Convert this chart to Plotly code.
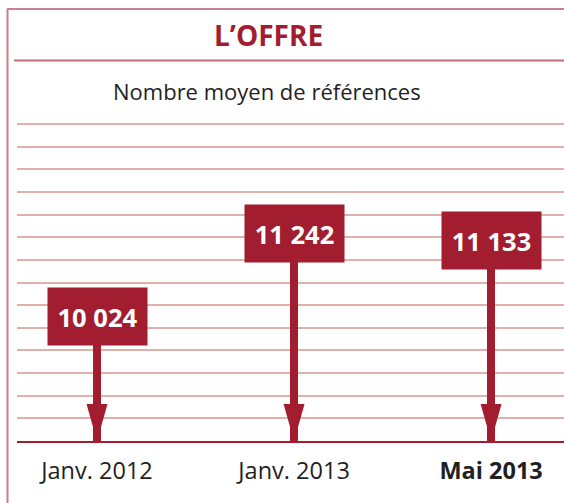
import plotly.graph_objects as go

# data
periods = ['Janv. 2012', 'Janv. 2013', 'Mai 2013']
references = [10024, 11242, 11133]
title_text = 'L’OFFRE'
subtitle_text = 'Nombre moyen de références'

# style
RED = '#a11d2f'
GRID = '#e0b1a9'
FRAME = '#c8808a'
INK = '#231f20'
FONT = 'Open Sans, sans-serif'

W, H = 564, 503
margin = dict(l=17, r=0, t=110, b=62)
plot_w = W - margin['l'] - margin['r']
plot_h = H - margin['t'] - margin['b']

base = 8210      # value sitting on the baseline
step = 330       # one grid line every `step`
y_top = base + plot_h / 0.0686


def px_x(px):
    return (px - margin['l']) / plot_w


def px_y(py):
    return (H - margin['b'] - py) / plot_h


x_pos = list(range(len(periods)))
tick_text = [f'<b>{p}</b>' if i == len(periods) - 1 else p for i, p in enumerate(periods)]

fig = go.Figure()

# arrow stems
fig.add_trace(go.Bar(
    x=x_pos, y=[v - base for v in references], base=base,
    width=0.041, marker=dict(color=RED, line=dict(width=0)),
    hoverinfo='skip',
))

# arrow heads + value boxes
for i, v in zip(x_pos, references):
    fig.add_shape(
        type='path', xref='x', yref='y',
        xsizemode='pixel', ysizemode='pixel',
        xanchor=i, yanchor=base,
        path='M-10.5,37 L10.5,37 L0,0 Z',
        fillcolor=RED, line=dict(width=0), layer='above',
    )
    fig.add_annotation(
        x=i, y=v, xref='x', yref='y',
        text='<b>' + f'{v:,}'.replace(',', ' ') + '</b>',
        showarrow=False, bgcolor=RED, width=99, height=57, borderpad=0,
        font=dict(family=FONT, size=25.5, color='white'),
    )

# frame and title rule
fig.add_shape(type='line', xref='paper', yref='paper',
              x0=px_x(7.5), x1=px_x(7.5), y0=px_y(9), y1=px_y(503),
              line=dict(color=FRAME, width=2))
fig.add_shape(type='line', xref='paper', yref='paper',
              x0=px_x(7), x1=1, y0=px_y(9), y1=px_y(9),
              line=dict(color=FRAME, width=2))
fig.add_shape(type='line', xref='paper', yref='paper',
              x0=px_x(14), x1=1, y0=px_y(60.5), y1=px_y(60.5),
              line=dict(color='#c06f79', width=2))

fig.add_annotation(
    text=f'<b>{title_text}</b>', xref='paper', yref='paper',
    x=px_x(268), y=px_y(35), showarrow=False, yanchor='middle',
    font=dict(family=FONT, size=28, color=RED),
)
fig.add_annotation(
    text=subtitle_text, xref='paper', yref='paper',
    x=px_x(267), y=px_y(91), showarrow=False, yanchor='middle',
    font=dict(family=FONT, size=22, color=INK),
)

fig.update_xaxes(
    range=[-0.406, 2.37], tickvals=x_pos, ticktext=tick_text,
    showgrid=False, zeroline=False, ticks='',
    showline=True, linecolor=RED, linewidth=2,
    tickfont=dict(family=FONT, size=23.5, color=INK),
    ticklabelstandoff=8,
)
fig.update_yaxes(
    range=[base, y_top], tick0=base, dtick=step,
    showgrid=True, gridcolor=GRID, gridwidth=1.5,
    zeroline=False, showticklabels=False, ticks='',
)
fig.update_layout(
    width=W, height=H, margin=margin,
    plot_bgcolor='white', paper_bgcolor='white',
    showlegend=False, bargap=0,
)

fig.write_html('out.html', config={'displayModeBar': False},
               post_script="document.body.style.margin='0';")
